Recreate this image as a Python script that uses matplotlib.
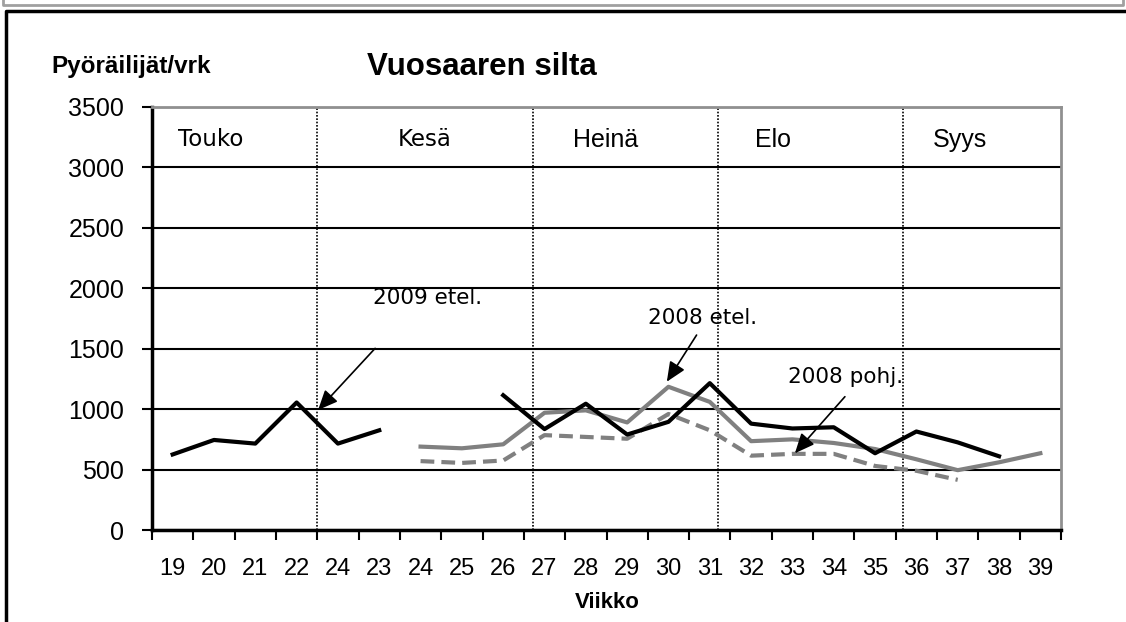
import matplotlib
matplotlib.use('Agg')
import matplotlib.pyplot as plt
import numpy as np

# week labels on the x axis (as printed in the original)
weeks = ['19', '20', '21', '22', '24', '23', '24', '25', '26', '27', '28',
         '29', '30', '31', '32', '33', '34', '35', '36', '37', '38', '39']

# cyclists per day, None = no value
etel_2009 = [625, 745, 715, 1055, 715, 825, None, None, 1115, 835, 1045,
             790, 895, 1215, 880, 840, 850, 635, 815, 725, 610, None]
etel_2008 = [None, None, None, None, None, None, 690, 676, 709, 970, 990,
             890, 1185, 1060, 735, 750, 720, 670, 585, 495, 560, 635]
pohj_2008 = [None, None, None, None, None, None, 570, 555, 575, 785, 770,
             755, 960, 825, 615, 630, 630, 530, 490, 415, None, None]

months = ['Touko', 'Kesä', 'Heinä', 'Elo', 'Syys']
month_x = [0.13, 5.45, 9.69, 14.09, 18.4]
month_lines = [3.5, 8.72, 13.19, 17.67]


def arr(v):
    return np.array([np.nan if a is None else a for a in v], dtype=float)


fig = plt.figure(figsize=(11.26, 6.22), dpi=100)
W, H = 1126, 622
ax = fig.add_axes([152 / W, (H - 530) / H, 909 / W, 423 / H])

x = np.arange(len(weeks))
ax.plot(x, arr(etel_2008), color='#808080', lw=3, zorder=3)
ax.plot(x, arr(pohj_2008), color='#808080', lw=3, ls=(0, (3.3, 1.7)), zorder=3)
ax.plot(x, arr(etel_2009), color='black', lw=3, zorder=4)

ax.set_xlim(-0.5, len(weeks) - 0.5)
ax.set_ylim(0, 3500)
ax.set_yticks(range(0, 3501, 500))
ax.set_xticks(x)
ax.set_xticklabels(weeks)
ax.set_xticks(np.arange(-0.5, len(weeks), 1), minor=True)
ax.tick_params(axis='x', which='major', length=0, pad=20)
ax.tick_params(axis='x', which='minor', length=7, width=1.5, direction='out')
ax.tick_params(axis='y', length=7, width=1.5, direction='out', pad=13)
for lab in ax.get_xticklabels():
    lab.set_family('Liberation Sans')
    lab.set_fontsize(17)
for lab in ax.get_yticklabels():
    lab.set_family('Liberation Sans')
    lab.set_fontsize(18)

ax.grid(axis='y', color='black', lw=1.5)
ax.set_axisbelow(True)
for s in ['left', 'bottom']:
    ax.spines[s].set_linewidth(2.5)
for s in ['top', 'right']:
    ax.spines[s].set_color('#909090')
    ax.spines[s].set_linewidth(2)

for mx in month_lines:
    ax.axvline(mx, color='black', lw=1.2, ls=(0, (1, 1)), zorder=2)
for i, (name, mx) in enumerate(zip(months, month_x)):
    fam = 'DejaVu Sans' if i < 2 else 'Liberation Sans'
    ax.text(mx, 3227, name, fontsize=16.5 if i < 2 else 18, family=fam, va='center')

arrow = dict(arrowstyle='-|>,head_length=0.5,head_width=0.22', color='black', lw=1.2,
             mutation_scale=24, shrinkA=0, shrinkB=0)
lab = dict(fontsize=15.5, family='DejaVu Sans', va='center')
ax.text(4.85, 1920, '2009 etel.', **lab)
ax.annotate('', xy=(3.52, 993), xytext=(4.9, 1503), arrowprops=arrow)
ax.text(11.5, 1754, '2008 etel.', **lab)
ax.annotate('', xy=(11.96, 1227), xytext=(12.68, 1613), arrowprops=arrow)
ax.text(14.89, 1266, '2008 pohj.', **lab)
ax.annotate('', xy=(15.06, 635), xytext=(16.27, 1103), arrowprops=arrow)

fig.text(51 / W, 1 - 67 / H, 'Pyöräilijät/vrk', fontsize=17.5, weight='bold',
         family='Liberation Sans', va='center')
fig.text(367 / W, 1 - 67 / H, 'Vuosaaren silta', fontsize=22.5, weight='bold',
         family='Liberation Sans', va='center')
fig.text(607 / W, 1 - 602 / H, 'Viikko', fontsize=16, weight='bold',
         family='Liberation Sans', va='center', ha='center')

# outer frames
fig.add_artist(plt.Line2D([3 / W, 3 / W, 1123 / W, 1123 / W], [1, 1 - 5 / H, 1 - 5 / H, 1],
                          color='#a0a0a0', lw=2))
fig.add_artist(plt.Line2D([6 / W, 6 / W, 1], [0, 1 - 11 / H, 1 - 11 / H],
                          color='black', lw=2.5))

fig.savefig('out.png', dpi=100)
